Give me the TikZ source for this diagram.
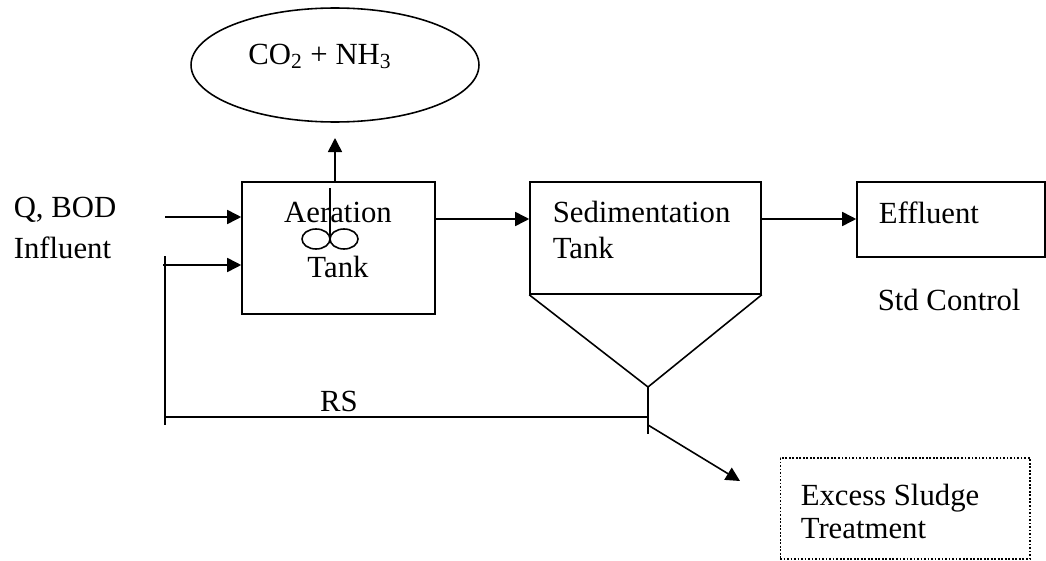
\documentclass[tikz,border=0pt]{standalone}
\usepackage{fontspec}
\setmainfont{Liberation Serif}
\usetikzlibrary{arrows.meta,shapes.geometric}

\begin{document}
\begin{tikzpicture}[x=0.02cm,y=-0.02cm,line width=0.9pt,
    flow/.style={-{Triangle[length=8pt,width=8pt]}},
    tank/.style={draw,rectangle,inner sep=0pt},
    lbl/.style={font=\fontsize{17.5}{20.5}\selectfont,inner sep=0pt,anchor=base west}]
  \useasboundingbox (0,0) rectangle (1046,561);
  % tanks and boxes
  \node[tank,minimum width=3.86cm,minimum height=2.64cm] (aer) at (338.5,248) {};
  \node[tank,minimum width=4.62cm,minimum height=2.24cm] (sed) at (645.5,238) {};
  \node[tank,minimum width=3.76cm,minimum height=1.5cm] (eff) at (951,219.5) {};
  \node[tank,dash pattern=on 1pt off 1pt,line width=0.6pt,minimum width=5cm,minimum height=2.02cm] (excess) at (905,508.5) {};
  \node[draw,ellipse,inner sep=0pt,minimum width=5.76cm,minimum height=2.28cm] (gas) at (335,65) {};
  % texts
  \node[lbl,anchor=base] (gastxt) at (320,64) {CO\textsubscript{2} + NH\textsubscript{3}};
  \node[lbl] (qbod) at (13,217) {Q, BOD};
  \node[lbl] (infl) at (13,258) {Influent};
  \node[lbl,anchor=base] (aertxt) at (338,222) {Aeration};
  \node[lbl,anchor=base] (aertxt2) at (338,277) {Tank};
  \node[lbl] (sedtxt) at (552,222) {Sedimentation};
  \node[lbl] (sedtxt2) at (552,258) {Tank};
  \node[lbl] (efftxt) at (878,223) {Effluent};
  \node[lbl] (std) at (877,310) {Std Control};
  \node[lbl,anchor=base] (rs) at (339,411) {RS};
  \node[lbl] (extxt) at (800,505) {Excess Sludge};
  \node[lbl] (extxt2) at (800,538) {Treatment};
  % mixer
  \draw (330,188) -- (330,237);
  \draw (316,239) ellipse [x radius=14,y radius=10];
  \draw (344,239) ellipse [x radius=14,y radius=10];
  % points
  \coordinate (qin) at (165,217);
  \coordinate (rin) at (163,265);
  \coordinate (mid) at (0,219);
  \coordinate (gasin) at (335,138);
  \coordinate (apex) at (648,387);
  \coordinate (jret) at (648,417);
  \coordinate (jbot) at (648,434);
  \coordinate (jex) at (648,425);
  \coordinate (extip) at (740,481);
  \coordinate (rtop) at (165,256);
  \coordinate (rbot) at (165,425);
  % flows
  \draw[flow] (qin) -- (aer.west |- qin);
  \draw[flow] (rin) -- (aer.west |- rin);
  \draw[flow] (aer.east |- mid) -- (sed.west |- mid);
  \draw[flow] (sed.east |- mid) -- (eff.west |- mid);
  \draw[flow] (aer.north -| gasin) -- (gasin);
  % hopper and return sludge
  \draw (sed.south west) -- (apex) -- (sed.south east);
  \draw (apex) -- (jbot);
  \draw (jret) -- (rtop |- jret);
  \draw (rtop) -- (rbot);
  \draw[flow] (jex) -- (extip);
\end{tikzpicture}
\end{document}
